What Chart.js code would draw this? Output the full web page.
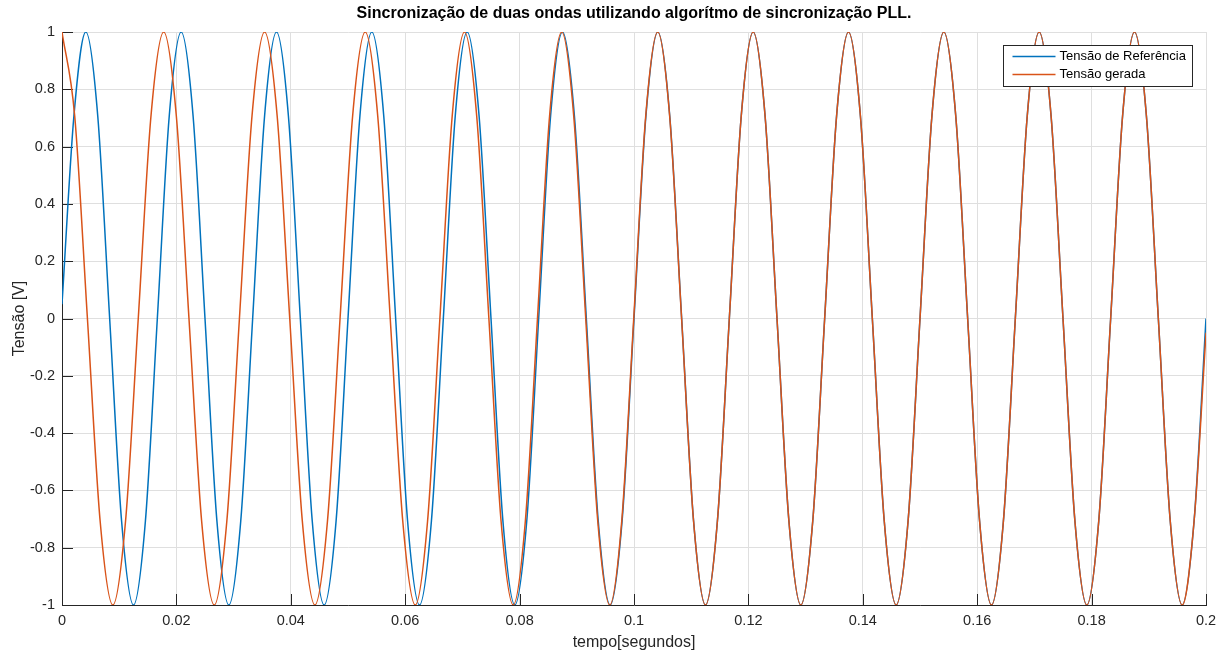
<!DOCTYPE html>
<html>
<head>
<meta charset="utf-8">
<script src="https://cdn.jsdelivr.net/npm/chart.js"></script>
<style>
  html, body { margin: 0; padding: 0; background: #ffffff; }
  #wrap { width: 1224px; height: 652px; }
</style>
</head>
<body>
<div id="wrap"><canvas id="c" width="1224" height="652"></canvas></div>
<script>
// ---- Data ----
const tituloGrafico = 'Sincronização de duas ondas utilizando algorítmo de sincronização PLL.';
const rotuloX = 'tempo[segundos]';
const rotuloY = 'Tensão [V]';
const nomeReferencia = 'Tensão de Referência';
const nomeGerada = 'Tensão gerada';

// Reference voltage (blue): time [s]
const tempoReferencia = [
  0, 0.002083, 0.004167, 0.00625, 0.008333, 0.010417, 0.0125, 0.014583,
  0.016667, 0.01875, 0.020833, 0.022917, 0.025, 0.027083, 0.029167, 0.03125,
  0.033333, 0.035417, 0.0375, 0.039583, 0.041667, 0.04375, 0.045833, 0.047917,
  0.05, 0.052083, 0.054167, 0.05625, 0.058333, 0.060417, 0.0625, 0.064583,
  0.066667, 0.06875, 0.070833, 0.072917, 0.075, 0.077083, 0.079167, 0.08125,
  0.083333, 0.085417, 0.0875, 0.089583, 0.091667, 0.09375, 0.095833, 0.097917,
  0.1, 0.102083, 0.104167, 0.10625, 0.108333, 0.110417, 0.1125, 0.114583,
  0.116667, 0.11875, 0.120833, 0.122917, 0.125, 0.127083, 0.129167, 0.13125,
  0.133333, 0.135417, 0.1375, 0.139583, 0.141667, 0.14375, 0.145833, 0.147917,
  0.15, 0.152083, 0.154167, 0.15625, 0.158333, 0.160417, 0.1625, 0.164583,
  0.166667, 0.16875, 0.170833, 0.172917, 0.175, 0.177083, 0.179167, 0.18125,
  0.183333, 0.185417, 0.1875, 0.189583, 0.191667, 0.19375, 0.195833, 0.197917,
  0.2
];
// Reference voltage (blue): value [V]
const tensaoReferencia = [
  0.05, 0.707, 1, 0.707, 0, -0.707, -1, -0.707,
  0, 0.707, 1, 0.707, 0, -0.707, -1, -0.707,
  0, 0.707, 1, 0.707, 0, -0.707, -1, -0.707,
  0, 0.707, 1, 0.707, 0, -0.707, -1, -0.707,
  0, 0.707, 1, 0.707, 0, -0.707, -1, -0.707,
  0, 0.707, 1, 0.707, 0, -0.707, -1, -0.707,
  0, 0.707, 1, 0.707, 0, -0.707, -1, -0.707,
  0, 0.707, 1, 0.707, 0, -0.707, -1, -0.707,
  0, 0.707, 1, 0.707, 0, -0.707, -1, -0.707,
  0, 0.707, 1, 0.707, 0, -0.707, -1, -0.707,
  0, 0.707, 1, 0.707, 0, -0.707, -1, -0.707,
  0, 0.707, 1, 0.707, 0, -0.707, -1, -0.707,
  0
];

// Generated voltage (orange, PLL output): time [s]
const tempoGerada = [
  0, 0.002222, 0.004444, 0.006667,
  0.008889, 0.011111, 0.013333, 0.015556,
  0.017778, 0.019988, 0.022199, 0.02441,
  0.02662, 0.028819, 0.031019, 0.033218,
  0.035417, 0.037616, 0.039815, 0.042014,
  0.044213, 0.046412, 0.048611, 0.05081,
  0.053009, 0.055197, 0.057384, 0.059572,
  0.061759, 0.063912, 0.066065, 0.068218,
  0.07037, 0.0725, 0.07463, 0.076759,
  0.078889, 0.081007, 0.083125, 0.085243,
  0.087361, 0.089462, 0.091563, 0.093663,
  0.095764, 0.097859, 0.099954, 0.102049,
  0.104144, 0.106233, 0.108322, 0.110411,
  0.1125, 0.114583, 0.116667, 0.11875,
  0.120833, 0.122917, 0.125, 0.127083,
  0.129167, 0.13125, 0.133333, 0.135417,
  0.1375, 0.139583, 0.141667, 0.14375,
  0.145833, 0.147917, 0.15, 0.152083,
  0.154167, 0.15625, 0.158333, 0.160417,
  0.1625, 0.164583, 0.166667, 0.16875,
  0.170833, 0.172917, 0.175, 0.177083,
  0.179167, 0.18125, 0.183333, 0.185417,
  0.1875, 0.189583, 0.191667, 0.19375,
  0.195833, 0.197917, 0.2
];
// Generated voltage (orange): value [V]
const tensaoGerada = [
  1, 0.707, 0, -0.707, -1, -0.707, 0, 0.707,
  1, 0.707, 0, -0.707, -1, -0.707, 0, 0.707,
  1, 0.707, 0, -0.707, -1, -0.707, 0, 0.707,
  1, 0.707, 0, -0.707, -1, -0.707, 0, 0.707,
  1, 0.707, 0, -0.707, -1, -0.707, 0, 0.707,
  1, 0.707, 0, -0.707, -1, -0.707, 0, 0.707,
  1, 0.707, 0, -0.707, -1, -0.707, 0, 0.707,
  1, 0.707, 0, -0.707, -1, -0.707, 0, 0.707,
  1, 0.707, 0, -0.707, -1, -0.707, 0, 0.707,
  1, 0.707, 0, -0.707, -1, -0.707, 0, 0.707,
  1, 0.707, 0, -0.707, -1, -0.707, 0, 0.707,
  1, 0.707, 0, -0.707, -1, -0.707, -0.05
];

// Tick values and labels
const xTickValues = [0, 0.02, 0.04, 0.06, 0.08, 0.1, 0.12, 0.14, 0.16, 0.18, 0.2];
const xTickLabels = ['0', '0.02', '0.04', '0.06', '0.08', '0.1', '0.12', '0.14', '0.16', '0.18', '0.2'];
const yTickValues = [-1, -0.8, -0.6, -0.4, -0.2, 0, 0.2, 0.4, 0.6, 0.8, 1];
const yTickLabels = ['-1', '-0.8', '-0.6', '-0.4', '-0.2', '0', '0.2', '0.4', '0.6', '0.8', '1'];

// ---- Styles ----
const FONT = '"Liberation Sans", Arial, Helvetica, sans-serif';
const COR_AZUL = '#0072BD';
const COR_LARANJA = '#D95319';
const COR_EIXO = '#262626';
const COR_GRADE = '#dfdfdf';

const pontosRef = tempoReferencia.map((t, i) => ({ x: t, y: tensaoReferencia[i] }));
const pontosGer = tempoGerada.map((t, i) => ({ x: t, y: tensaoGerada[i] }));

// Title centred over the axes (MATLAB style)
const tituloEixos = {
  id: 'tituloEixos',
  afterDraw(chart) {
    const { ctx, chartArea } = chart;
    ctx.save();
    ctx.font = 'bold 16px ' + FONT;
    ctx.fillStyle = '#000000';
    ctx.textAlign = 'center';
    ctx.textBaseline = 'middle';
    ctx.fillText(tituloGrafico, (chartArea.left + chartArea.right) / 2, 13.5);
    ctx.restore();
  }
};

// Inward tick marks (MATLAB style)
const inwardTicks = {
  id: 'inwardTicks',
  beforeDatasetsDraw(chart) {
    const { ctx, chartArea, scales } = chart;
    const len = 11;
    ctx.save();
    ctx.strokeStyle = COR_EIXO;
    ctx.lineWidth = 1;
    ctx.beginPath();
    scales.x.ticks.forEach(tk => {
      const px = Math.round(scales.x.getPixelForValue(tk.value)) + 0.5;
      ctx.moveTo(px, chartArea.bottom);
      ctx.lineTo(px, chartArea.bottom - len);
    });
    scales.y.ticks.forEach(tk => {
      const py = Math.round(scales.y.getPixelForValue(tk.value)) + 0.5;
      ctx.moveTo(chartArea.left, py);
      ctx.lineTo(chartArea.left + len, py);
    });
    ctx.stroke();
    ctx.restore();
  }
};

// Legend box inside the axes (top-right)
const caixaLegenda = {
  id: 'caixaLegenda',
  afterDraw(chart) {
    const { ctx, chartArea } = chart;
    const w = 189, h = 41;
    const x0 = Math.round(chartArea.right - 14 - w) + 0.5;
    const y0 = Math.round(chartArea.top + 13) + 0.5;
    ctx.save();
    ctx.fillStyle = '#ffffff';
    ctx.fillRect(x0, y0, w, h);
    ctx.strokeStyle = COR_EIXO;
    ctx.lineWidth = 1;
    ctx.strokeRect(x0, y0, w, h);
    ctx.font = '13px ' + FONT;
    ctx.textBaseline = 'middle';
    ctx.textAlign = 'left';
    chart.data.datasets.forEach((ds, i) => {
      const yy = y0 + 11 + i * 18;
      ctx.strokeStyle = ds.borderColor;
      ctx.lineWidth = 1.5;
      ctx.beginPath();
      ctx.moveTo(x0 + 9, yy);
      ctx.lineTo(x0 + 52, yy);
      ctx.stroke();
      ctx.fillStyle = '#000000';
      ctx.fillText(ds.label, x0 + 56, yy);
    });
    ctx.restore();
  }
};

new Chart(document.getElementById('c'), {
  type: 'line',
  data: {
    datasets: [
      { label: nomeReferencia, data: pontosRef, borderColor: COR_AZUL, backgroundColor: COR_AZUL,
        borderWidth: 1.5, pointRadius: 0, cubicInterpolationMode: 'monotone', fill: false, order: 1 },
      { label: nomeGerada, data: pontosGer, borderColor: COR_LARANJA, backgroundColor: COR_LARANJA,
        borderWidth: 1.5, pointRadius: 0, cubicInterpolationMode: 'monotone', fill: false, order: 0 }
    ]
  },
  options: {
    responsive: false,
    animation: false,
    devicePixelRatio: 1,
    layout: { padding: { top: 32, right: 18, bottom: 0, left: 0 } },
    plugins: {
      legend: { display: false },
      tooltip: { enabled: false },
      title: { display: false }
    },
    scales: {
      x: {
        type: 'linear',
        min: 0, max: 0.2,
        afterBuildTicks: s => { s.ticks = xTickValues.map(v => ({ value: v })); },
        afterFit: s => { s.height = 47; },
        ticks: {
          autoSkip: false, maxRotation: 0, padding: 7,
          color: COR_EIXO, font: { family: FONT, size: 14.5 },
          callback: (v, i) => xTickLabels[i]
        },
        grid: { color: COR_GRADE, drawTicks: false, lineWidth: 1 },
        border: { color: COR_EIXO, width: 1 },
        title: { display: true, text: rotuloX, color: COR_EIXO, font: { family: FONT, size: 16 }, padding: { top: 0, bottom: 0 } }
      },
      y: {
        type: 'linear',
        min: -1, max: 1,
        afterBuildTicks: s => { s.ticks = yTickValues.map(v => ({ value: v })); },
        afterFit: s => { s.width = 62; },
        ticks: {
          autoSkip: false, padding: 7,
          color: COR_EIXO, font: { family: FONT, size: 14.5 },
          callback: (v, i) => yTickLabels[i]
        },
        grid: { color: COR_GRADE, drawTicks: false, lineWidth: 1 },
        border: { color: COR_EIXO, width: 1 },
        title: { display: true, text: rotuloY, color: COR_EIXO, font: { family: FONT, size: 16 }, padding: { top: 10, bottom: 0 } }
      }
    }
  },
  plugins: [inwardTicks, caixaLegenda, tituloEixos]
});
</script>
</body>
</html>
